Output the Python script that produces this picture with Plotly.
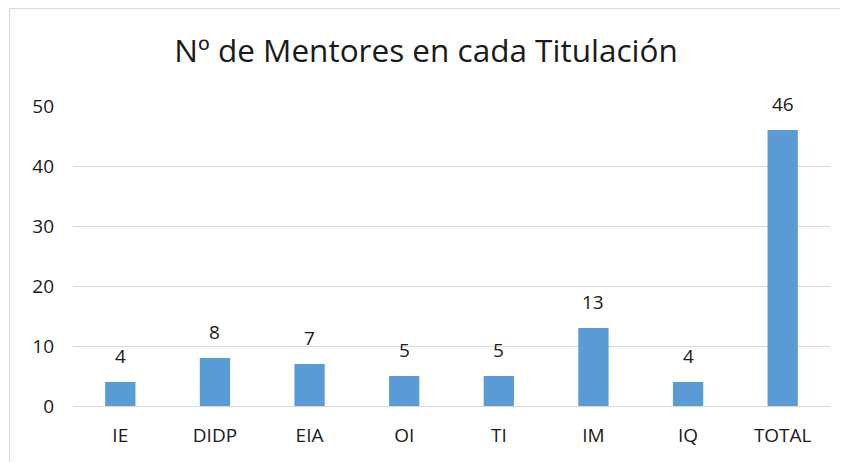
import plotly.graph_objects as go

categories = ["IE", "DIDP", "EIA", "OI", "TI", "IM", "IQ", "TOTAL"]
values = [4, 8, 7, 5, 5, 13, 4, 46]
y_ticks = [0, 10, 20, 30, 40, 50]

W, H = 848, 462
OFF = 8  # page body offset
L, R, T, B = 73 - OFF, 18 + OFF, 106 - OFF, 56 + OFF
pw, ph = W - L - R, H - T - B

def px_x(p):
    return (p - OFF - L) / pw

def px_y(p):
    return (H - B - (p - OFF)) / ph

FONT = "Open Sans"
TXT = "#1a1a1a"

fig = go.Figure(go.Bar(
    x=categories, y=values,
    marker=dict(color="#5B9BD5", line=dict(width=0)),
    hoverinfo="x+y",
))

for c, v in zip(categories, values):
    fig.add_annotation(x=c, y=v, text=str(v), showarrow=False,
                       yanchor="middle", yshift=26,
                       font=dict(family=FONT, size=19, color=TXT))

fig.update_layout(
    width=W, height=H,
    margin=dict(l=L, r=R, t=T, b=B),
    paper_bgcolor="white", plot_bgcolor="white",
    bargap=0.68,
    showlegend=False,
    title=dict(text="Nº de Mentores en cada Titulación", x=0.5 - 6 / W, xanchor="center",
               y=1 - (51 - OFF) / H, yanchor="middle",
               font=dict(family=FONT, size=31.5, color=TXT)),
    xaxis=dict(showgrid=False, showline=True, linecolor="#D9D9D9", linewidth=1,
               ticks="", ticklabelstandoff=12, automargin=False,
               tickfont=dict(family=FONT, size=19, color=TXT)),
    yaxis=dict(range=[0, 50], tickvals=y_ticks, showgrid=True, gridcolor="#D9D9D9",
               gridwidth=1, zeroline=False, ticks="", showline=False,
               ticklabelstandoff=18, automargin=False,
               tickfont=dict(family=FONT, size=19, color=TXT)),
    shapes=[dict(type="rect", xref="paper", yref="paper",
                 x0=px_x(9.5), x1=px_x(W + 20), y0=px_y(H + 20), y1=px_y(8.5),
                 line=dict(color="#D9D9D9", width=1), layer="below")],
)

fig.write_html("out.html")
